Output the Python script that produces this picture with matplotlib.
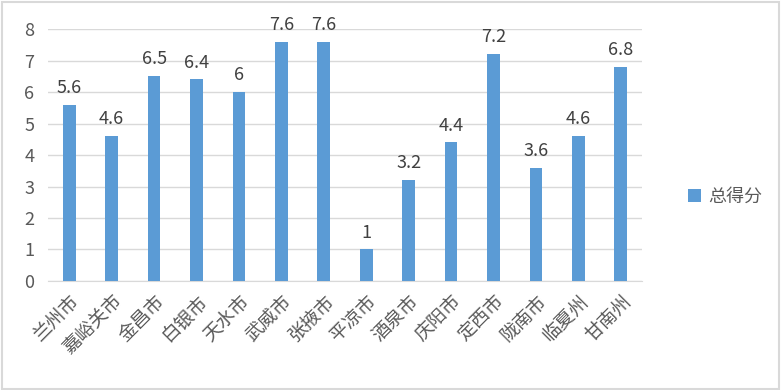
import matplotlib
matplotlib.use('Agg')
import matplotlib.pyplot as plt
from matplotlib.patches import Rectangle

plt.rcParams['font.family'] = ['Noto Sans CJK SC', 'DejaVu Sans']

cities = ['兰州市', '嘉峪关市', '金昌市', '白银市', '天水市', '武威市', '张掖市',
          '平凉市', '酒泉市', '庆阳市', '定西市', '陇南市', '临夏州', '甘南州']
scores = [5.6, 4.6, 6.5, 6.4, 6, 7.6, 7.6, 1, 3.2, 4.4, 7.2, 3.6, 4.6, 6.8]
value_labels = ['5.6', '4.6', '6.5', '6.4', '6', '7.6', '7.6', '1', '3.2', '4.4', '7.2', '3.6', '4.6', '6.8']

bar_color = '#5b9bd5'
text_color = '#595959'

fig = plt.figure(figsize=(7.81, 3.9), dpi=100)
ax = fig.add_axes([0.0615, 0.2795, 0.7605, 0.6461])

x = range(len(cities))
bars = ax.bar(x, scores, width=0.3, color=bar_color, label='总得分', zorder=3)
for b, lab in zip(bars, value_labels):
    ax.text(b.get_x() + b.get_width() / 2, b.get_height() + 0.25, lab,
            ha='center', va='bottom', fontsize=13, color='#404040')

ax.set_xlim(-0.5, len(cities) - 0.5)
ax.set_ylim(0, 8)
ax.set_yticks(range(0, 9))
ax.yaxis.grid(True, color='#d9d9d9', linewidth=1, zorder=0)
for s in ['top', 'right', 'left']:
    ax.spines[s].set_visible(False)
ax.spines['bottom'].set_color('#d9d9d9')
ax.tick_params(axis='both', length=0, labelsize=13, colors=text_color)
ax.tick_params(axis='y', pad=10)
ax.tick_params(axis='x', pad=7)
ax.set_xticks(list(x))
ax.set_xticklabels(cities, rotation=45, ha='right', rotation_mode='anchor', fontsize=13.5)

leg = fig.legend(handles=[bars], labels=['总得分'], loc='center left',
                 bbox_to_anchor=(0.86, 0.495), frameon=False, fontsize=13,
                 handlelength=0.7, handleheight=0.7, handletextpad=0.4)
for t in leg.get_texts():
    t.set_color(text_color)

fig.patches.append(Rectangle((0.002, 0.003), 0.995, 0.993, transform=fig.transFigure,
                             fill=False, edgecolor='#d9d9d9', linewidth=1.5))

fig.savefig('out.png', dpi=100)
